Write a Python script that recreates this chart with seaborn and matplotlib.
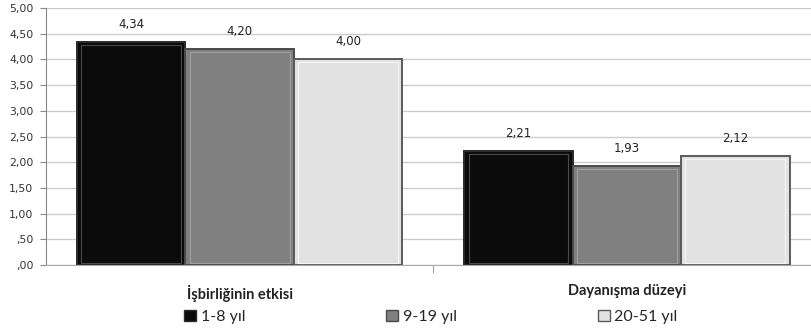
import numpy as np
import pandas as pd
import seaborn as sns
import matplotlib.pyplot as plt
from matplotlib.patches import Rectangle
from matplotlib.ticker import FuncFormatter, MultipleLocator

categories = ["İşbirliğinin etkisi", "Dayanışma düzeyi"]
groups = ["1-8 yıl", "9-19 yıl", "20-51 yıl"]
vals_1_8 = [4.34, 2.21]
vals_9_19 = [4.20, 1.93]
vals_20_51 = [4.00, 2.12]

colors = ["#0b0b0b", "#808080", "#e2e2e2"]
edges = ["#2a2a2a", "#4a4a4a", "#5a5a5a"]
bevels = ["#4a4a4a", "#a0a0a0", "#f6f6f6"]

rows = []
for g, vals in zip(groups, [vals_1_8, vals_9_19, vals_20_51]):
    for c, v in zip(categories, vals):
        rows.append({"kategori": c, "grup": g, "deger": v})
df = pd.DataFrame(rows)

sns.set_style("white")
plt.rcParams["font.family"] = ["Lato", "DejaVu Sans"]

fig = plt.figure(figsize=(8.12, 3.29), dpi=100)
ax = fig.add_axes([46 / 812, 1 - 265 / 329, 1 - 46 / 812, 257 / 329])

sns.barplot(data=df, x="kategori", y="deger", hue="grup", order=categories,
            hue_order=groups, palette=colors, width=0.84, saturation=1,
            legend=False, ax=ax, zorder=3)

# bevel look + value labels
for i, cont in enumerate(ax.containers):
    for p in cont:
        p.set_edgecolor(edges[i])
        p.set_linewidth(1.4)
        x, y = p.get_x(), p.get_y()
        w, h = p.get_width(), p.get_height()
        ins = w * 0.04
        ax.add_patch(Rectangle((x + ins, y + 0.03), w - 2 * ins, h - 0.09,
                               fill=False, edgecolor=bevels[i], lw=0.8,
                               zorder=4))
    labels = [f"{v:.2f}".replace(".", ",") for v in cont.datavalues]
    ax.bar_label(cont, labels=labels, padding=8, fontsize=8.5,
                 color="#222222", fontfamily="DejaVu Sans")

ax.set_ylim(0, 5)
ax.set_xlim(-0.5, 1.478)
ax.yaxis.set_major_locator(MultipleLocator(0.5))


def fmt(v, pos):
    s = f"{v:.2f}".replace(".", ",")
    return s[1:] if s.startswith("0") else s


ax.yaxis.set_major_formatter(FuncFormatter(fmt))
ax.tick_params(axis="y", labelsize=7.8, labelcolor="#333333", length=4,
               color="#888888", left=True, pad=5)
for t in ax.get_yticklabels():
    t.set_fontfamily("DejaVu Sans")
ax.grid(axis="y", color="#cccccc", lw=1.0, zorder=0)
ax.set_axisbelow(True)

ax.set_xticks([0, 1])
ax.set_xticklabels(categories, fontsize=10.5, fontweight="bold", color="#222222")
ax.set_xticks([0.5], minor=True)
ax.tick_params(axis="x", which="major", length=0, pad=14)
ax.tick_params(axis="x", which="minor", length=6, color="#888888", bottom=True)
ax.set_xlabel("")
ax.set_ylabel("")

for s in ["top", "right"]:
    ax.spines[s].set_visible(False)
ax.spines["left"].set_color("#888888")
ax.spines["bottom"].set_color("#aaaaaa")

handles = [Rectangle((0, 0), 1, 1, facecolor=c, edgecolor=e)
           for c, e in zip(colors, edges)]
fig.legend(handles, groups, loc="center", bbox_to_anchor=(431 / 812, 1 - 317 / 329),
           ncol=3, frameon=False, fontsize=11.5, columnspacing=8.8,
           handlelength=0.75, handleheight=0.65, handletextpad=0.3)

fig.savefig("out.png", dpi=100)
